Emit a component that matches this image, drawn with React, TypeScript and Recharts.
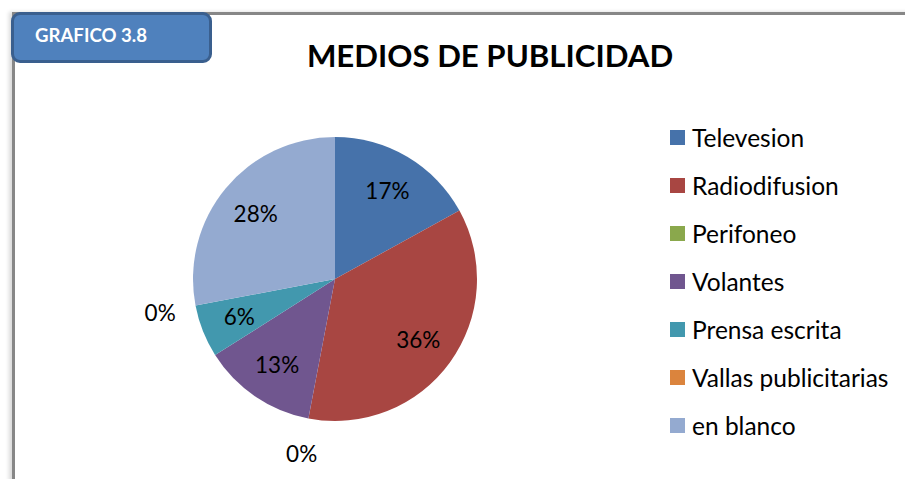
import { Cell, Legend, Pie, PieChart } from "recharts";

// categorías y porcentajes
const medios = [
  "Televesion",
  "Radiodifusion",
  "Perifoneo",
  "Volantes",
  "Prensa escrita",
  "Vallas publicitarias",
  "en blanco",
];
const porcentajes = [17, 36, 0, 13, 6, 0, 28];
const colores = ["#4672aa", "#a84642", "#8aa84c", "#70568f", "#4298ae", "#db843d", "#94aad0"];

const data = medios.map((name, i) => ({ name, value: porcentajes[i] }));

const FONT = "Lato, 'Open Sans', sans-serif";
const RAD = Math.PI / 180;

function renderLabel(props: any) {
  const { cx, cy, midAngle, outerRadius, percent, value } = props;
  // los 0% van fuera de la torta
  const r = value === 0 ? outerRadius + 36 : outerRadius * 0.725;
  const x = cx + r * Math.cos(-midAngle * RAD);
  const y = cy + r * Math.sin(-midAngle * RAD);
  return (
    <text
      x={x}
      y={y}
      textAnchor="middle"
      dominantBaseline="central"
      fill="#000"
      fontFamily={FONT}
      fontSize={22.5}
    >
      {`${Math.round(percent * 100)}%`}
    </text>
  );
}

function LegendList({ payload }: any) {
  // mismo orden que la serie, sin ordenar alfabéticamente
  const items = [...(payload || [])].sort(
    (a: any, b: any) => medios.indexOf(a.value) - medios.indexOf(b.value)
  );
  return (
    <div style={{ fontFamily: FONT, fontSize: 24.5, color: "#000" }}>
      {items.map((entry: any) => (
        <div
          key={entry.value}
          style={{ display: "flex", alignItems: "center", height: 48 }}
        >
          <span
            style={{
              width: 15,
              height: 15,
              background: entry.color,
              marginRight: 7,
              display: "inline-block",
              flex: "none",
            }}
          />
          <span style={{ whiteSpace: "nowrap" }}>{entry.value}</span>
        </div>
      ))}
    </div>
  );
}

export default function App() {
  return (
    <div
      style={{
        position: "absolute",
        left: 0,
        top: 0,
        width: 905,
        height: 479,
        background: "#fff",
        overflow: "hidden",
      }}
    >
      {/* marco */}
      <div
        style={{
          position: "absolute",
          left: 12,
          top: 12,
          width: 900,
          height: 466,
          borderTop: "3px solid #878787",
          borderLeft: "3px solid #878787",
          borderBottom: "1px solid #c4c4c4",
          boxShadow: "-3px 0 4px rgba(0,0,0,0.15)",
        }}
      />
      <div
        style={{
          position: "absolute",
          left: 11,
          top: 12,
          width: 195,
          height: 45,
          background: "#4f81bd",
          border: "3px solid #3a5f8e",
          borderRadius: 9,
          boxSizing: "content-box",
        }}
      >
        <span
          style={{
            position: "absolute",
            left: 21,
            top: 9,
            color: "#fff",
            fontFamily: FONT,
            fontWeight: 700,
            fontSize: 18.6,
          }}
        >
          GRAFICO 3.8
        </span>
      </div>
      <div
        style={{
          position: "absolute",
          left: 0,
          width: 980,
          top: 36,
          textAlign: "center",
          fontFamily: FONT,
          fontWeight: 700,
          fontSize: 31.2,
          color: "#000",
          whiteSpace: "nowrap",
        }}
      >
        MEDIOS DE PUBLICIDAD
      </div>
      <div style={{ position: "absolute", left: 0, top: 0 }}>
        <PieChart
          width={905}
          height={479}
          margin={{ top: 0, right: 0, bottom: 0, left: 0 }}
        >
          <Pie
            data={data}
            dataKey="value"
            nameKey="name"
            cx={335}
            cy={279}
            outerRadius={142}
            startAngle={90}
            endAngle={-270}
            stroke="none"
            label={renderLabel}
            labelLine={false}
            isAnimationActive={false}
          >
            {data.map((d, i) => (
              <Cell key={d.name} fill={colores[i]} />
            ))}
          </Pie>
          <Legend
            layout="vertical"
            align="right"
            verticalAlign="top"
            content={<LegendList />}
            wrapperStyle={{ left: 670, top: 113, width: 235 }}
          />
        </PieChart>
      </div>
    </div>
  );
}
